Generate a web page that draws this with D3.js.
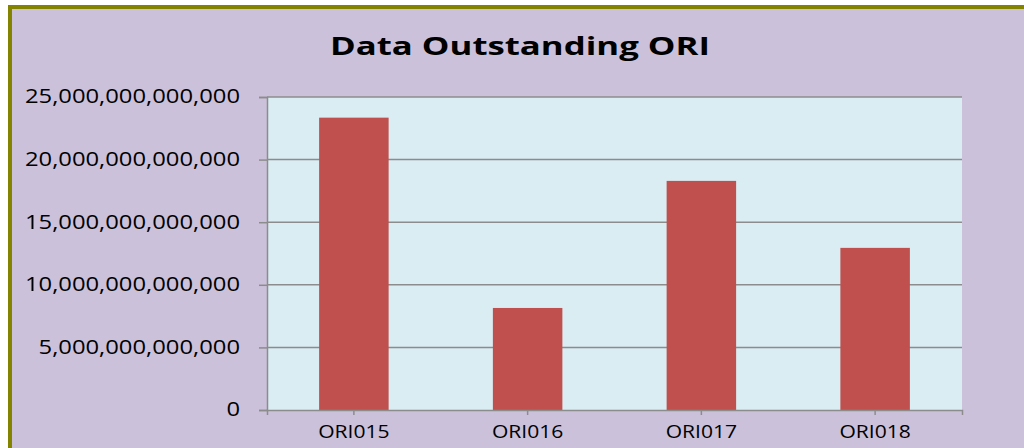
<!DOCTYPE html>
<html>
<head>
<meta charset="utf-8">
<script src="https://cdn.jsdelivr.net/npm/d3@7"></script>
<style>
  body { margin: 0; background: #fff; }
  text { font-family: "Open Sans", sans-serif; fill: #000; }
</style>
</head>
<body>
<div id="chart"></div>
<script>
var categories = ["ORI015", "ORI016", "ORI017", "ORI018"];
var values = [23.35e12, 8.15e12, 18.3e12, 12.95e12];
var yTicks = [0, 5e12, 10e12, 15e12, 20e12, 25e12];
var title = "Data Outstanding ORI";

var width = 1024, height = 448;
var plot = {left: 267, right: 962, top: 97, bottom: 410};

var svg = d3.select("#chart").append("svg")
	.attr("width", width)
	.attr("height", height);

// outer frame: olive border on top and left, lavender fill
svg.append("rect")
	.attr("x", 10).attr("y", 7)
	.attr("width", width + 20).attr("height", height + 20)
	.attr("fill", "#cbc1da")
	.attr("stroke", "#838300")
	.attr("stroke-width", 4);

// the source font is wider than Open Sans, so stretch text a bit
function stretch(sel, k) {
	sel.each(function(){
		var w = this.getComputedTextLength();
		d3.select(this)
			.attr("textLength", w * k)
			.attr("lengthAdjust", "spacingAndGlyphs");
	});
}

svg.append("text")
	.attr("x", 520).attr("y", 55)
	.attr("text-anchor", "middle")
	.style("font-size", "25px")
	.style("font-weight", "bold")
	.attr("textLength", 380)
	.attr("lengthAdjust", "spacingAndGlyphs")
	.text(title);

var x = d3.scaleBand()
	.domain(categories)
	.range([plot.left, plot.right])
	.paddingInner(0.6)
	.paddingOuter(0.3);

var y = d3.scaleLinear()
	.domain([0, 25e12])
	.range([plot.bottom, plot.top]);

svg.append("rect")
	.attr("x", plot.left).attr("y", plot.top)
	.attr("width", plot.right - plot.left)
	.attr("height", plot.bottom - plot.top)
	.attr("fill", "#daedf3");

// gridlines
svg.selectAll(".grid")
	.data(yTicks.slice(1))
	.enter().append("line")
	.attr("class", "grid")
	.attr("x1", plot.left).attr("x2", plot.right)
	.attr("y1", function(d){ return y(d); })
	.attr("y2", function(d){ return y(d); })
	.attr("stroke", "#8c8c8c")
	.attr("stroke-width", 1.5);

svg.selectAll(".bar")
	.data(values)
	.enter().append("rect")
	.attr("class", "bar")
	.attr("x", function(d, i){ return x(categories[i]); })
	.attr("width", x.bandwidth())
	.attr("y", function(d){ return y(d); })
	.attr("height", function(d){ return y(0) - y(d); })
	.attr("fill", "#c0504d");

// y axis
var yAxis = d3.axisLeft(y)
	.tickValues(yTicks)
	.tickSize(8)
	.tickPadding(19)
	.tickFormat(d3.format(",.0f"));

var gy = svg.append("g")
	.attr("transform", "translate(" + plot.left + ",0)")
	.call(yAxis);
gy.select(".domain").attr("stroke", "#8c8c8c").attr("stroke-width", 1.5);
gy.selectAll(".tick line").attr("stroke", "#8c8c8c").attr("stroke-width", 1.5);
gy.selectAll(".tick text")
	.style("font-size", "19.5px")
	.attr("dy", "0.3em")
	.call(stretch, 1.22);

// x axis
var xAxis = d3.axisBottom(x)
	.tickSize(5)
	.tickSizeOuter(5)
	.tickPadding(8);

var gx = svg.append("g")
	.attr("transform", "translate(0," + plot.bottom + ")")
	.call(xAxis);
gx.select(".domain").attr("stroke", "#8c8c8c").attr("stroke-width", 1.5);
gx.selectAll(".tick line").attr("stroke", "#8c8c8c").attr("stroke-width", 1.5);
gx.selectAll(".tick text")
	.style("font-size", "18px")
	.attr("y", 28).attr("dy", null)
	.call(stretch, 1.17);
</script>
</body>
</html>
